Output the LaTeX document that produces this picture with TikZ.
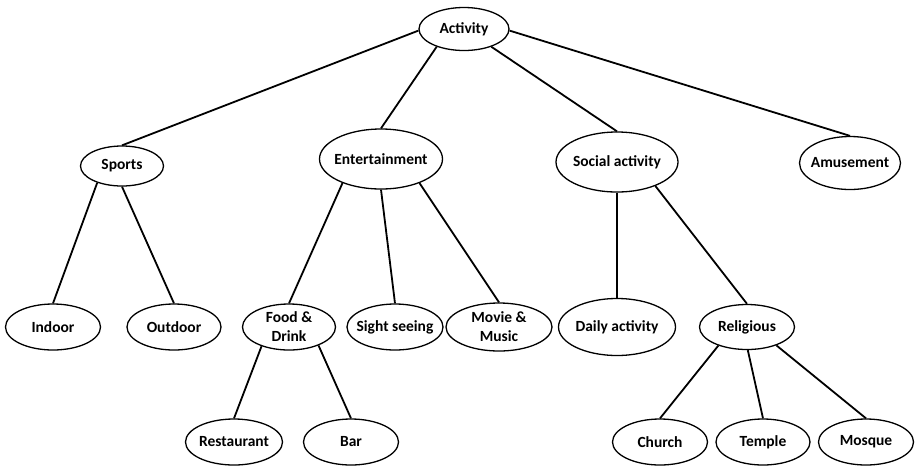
\documentclass[tikz,border=0pt]{standalone}
\usepackage{fontspec}
\setmainfont{Carlito}
\usetikzlibrary{shapes.geometric}
\tikzset{
  topic/.style={ellipse, draw=black, line width=1.3pt, inner xsep=-25pt, inner ysep=-10pt,
    font=\fontsize{15.5}{19}\selectfont\bfseries, align=center},
  link/.style={draw=black, line width=1.8pt}
}
\begin{document}
\begin{tikzpicture}[x=1pt,y=-1pt]
\useasboundingbox (0,0) rectangle (916,467);
\node[topic, minimum width=90pt, minimum height=43pt] (act) at (464,29) {Activity};
\node[topic, minimum width=83pt, minimum height=40pt] (spo) at (122,166) {Sports};
\node[topic, minimum width=123pt, minimum height=60pt] (ent) at (381,159) {Entertainment};
\node[topic, minimum width=122pt, minimum height=60pt] (soc) at (617,162) {Social activity};
\node[topic, minimum width=101pt, minimum height=53pt] (amu) at (850,163) {Amusement};
\node[topic, minimum width=95pt, minimum height=46pt] (ind) at (53,327) {Indoor};
\node[topic, minimum width=94pt, minimum height=46pt] (out) at (174,327) {Outdoor};
\node[topic, minimum width=93pt, minimum height=46pt] (fod) at (289,327) {Food \&\\Drink};
\node[topic, minimum width=96pt, minimum height=46pt] (sig) at (395,327) {Sight seeing};
\node[topic, minimum width=106pt, minimum height=48pt] (mov) at (499,327) {Movie \&\\Music};
\node[topic, minimum width=117pt, minimum height=57pt] (dai) at (617,327) {Daily activity};
\node[topic, minimum width=95pt, minimum height=45pt] (rel) at (747,327) {Religious};
\node[topic, minimum width=97pt, minimum height=46pt] (res) at (234,442) {Restaurant};
\node[topic, minimum width=95pt, minimum height=46pt] (bar) at (351,442) {Bar};
\node[topic, minimum width=95pt, minimum height=46pt] (chu) at (660,442) {Church};
\node[topic, minimum width=94pt, minimum height=46pt] (tem) at (763,442) {Temple};
\node[topic, minimum width=95pt, minimum height=46pt] (mos) at (866,442) {Mosque};

\draw[link] (act.182) -- (spo.north);
\draw[link] (act.213) -- (ent.north);
\draw[link] (act.327) -- (soc.north);
\draw[link] (act.358) -- (amu.north);
\draw[link] (spo.214) -- (ind.north);
\draw[link] (spo.270) -- (out.north);
\draw[link] (ent.212) -- (fod.north);
\draw[link] (ent.270) -- (sig.north);
\draw[link] (ent.328) -- (mov.north);
\draw[link] (soc.270) -- (dai.north);
\draw[link] (soc.328) -- (rel.north);
\draw[link] (fod.215) -- (res.north);
\draw[link] (fod.328) -- (bar.north);
\draw[link] (rel.213) -- (chu.north);
\draw[link] (rel.272) -- (tem.north);
\draw[link] (rel.328) -- (mos.north);
\end{tikzpicture}
\end{document}
